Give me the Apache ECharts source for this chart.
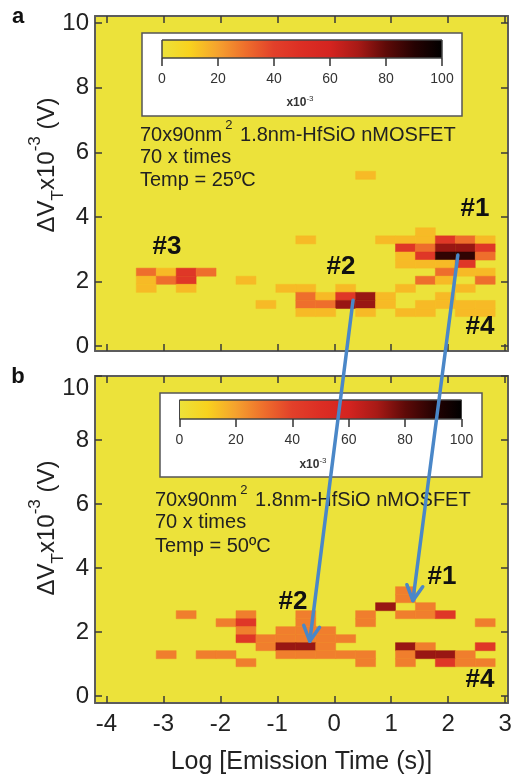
<!DOCTYPE html>
<html><head><meta charset="utf-8">
<script src="https://cdn.jsdelivr.net/npm/echarts@6/dist/echarts.min.js"></script>
<style>html,body{margin:0;padding:0;background:#fff}#c{width:518px;height:776px}</style>
</head><body><div id="c"></div>
<script>
// ---- tick labels ----
const xTicks = [-4, -3, -2, -1, 0, 1, 2, 3];
const yTicks = [0, 2, 4, 6, 8, 10];
const cbTicks = [0, 20, 40, 60, 80, 100];
// ---- bins (centres) ----
const binX = [-3.30, -2.95, -2.60, -2.25, -1.90, -1.55, -1.20, -0.85, -0.50, -0.15, 0.20, 0.55, 0.90, 1.25, 1.60, 1.95, 2.30, 2.65];
const binY = [1.04, 1.29, 1.54, 1.79, 2.04, 2.29, 2.54, 2.79, 3.04, 3.29, 3.54, 5.29];
const binW = 0.35, binH = 0.25;
// ---- panel a (25 C): [xBin, yBin, value x1e-3] ----
const cells25 = [
  [14,10,15],
  [8,9,15],[12,9,15],[13,9,15],[14,9,15],[15,9,45],[16,9,30],[17,9,15],
  [13,8,45],[14,8,30],[15,8,72],[16,8,72],[17,8,45],
  [13,7,15],[14,7,45],[15,7,88],[16,7,88],[17,7,30],
  [13,6,15],[14,6,15],[15,6,15],[16,6,45],
  [0,5,30],[1,5,15],[2,5,45],[3,5,30],[15,5,30],[16,5,15],[17,5,15],
  [0,4,15],[1,4,30],[2,4,45],[5,4,15],[14,4,30],[15,4,15],[17,4,30],
  [0,3,15],[2,3,15],[7,3,15],[8,3,15],[10,3,15],[13,3,15],[16,3,15],
  [8,2,30],[9,2,15],[10,2,45],[11,2,72],[12,2,15],[15,2,15],
  [6,1,15],[8,1,30],[9,1,30],[10,1,72],[11,1,72],[12,1,15],[14,1,15],[15,1,15],[16,1,15],[17,1,15],
  [8,0,15],[9,0,15],[11,0,15],[13,0,15],[14,0,15],[16,0,15],[17,0,15],
  [11,11,15]
];
// ---- panel b (50 C) ----
const cells50 = [
  [13,9,27],
  [13,8,27],
  [12,7,72],[14,7,27],
  [2,6,27],[5,6,27],[8,6,27],[11,6,27],[13,6,27],[14,6,27],[15,6,45],
  [4,5,27],[5,5,45],[8,5,27],[11,5,27],[17,5,27],
  [5,4,27],[7,4,27],[8,4,27],[9,4,27],
  [5,3,45],[6,3,27],[7,3,27],[8,3,27],[9,3,27],[10,3,27],
  [6,2,27],[7,2,72],[8,2,72],[9,2,27],[13,2,72],[14,2,27],[17,2,45],
  [1,1,27],[3,1,27],[4,1,27],[7,1,27],[8,1,27],[9,1,27],[10,1,27],[11,1,27],[13,1,27],[14,1,72],[15,1,72],[16,1,27],
  [5,0,27],[11,0,27],[13,0,27],[15,0,45],[16,0,27],[17,0,27]
];
// ---- colour scale 0..100 ----
const colorScale = ['#ECE23A','#F8D21E','#F5A22E','#EE6E2C','#E2402A','#DC2E24','#D42420','#A81A16','#5E0A08','#260202','#000000'];
// ---- arrows: [panel a point] -> [panel b point] ----
const arrowFrom = [[0.33, 1.42], [2.17, 2.82]];
const arrowTo = [[-0.43, 1.71], [1.38, 2.98]];

const FONT = '"Liberation Sans", Arial, sans-serif';
const BG = '#ECE23A';
const chart = echarts.init(document.getElementById('c'), null, {width: 518, height: 776});

function toData(cells) { return cells.map(c => [binX[c[0]], binY[c[1]], c[2]]); }

function cellRender(params, api) {
  const x = api.value(0), y = api.value(1);
  const p0 = api.coord([x - binW / 2, y + binH / 2]);
  const p1 = api.coord([x + binW / 2, y - binH / 2]);
  const col = api.visual('color');
  return {type: 'rect', shape: {x: p0[0], y: p0[1], width: p1[0] - p0[0], height: p1[1] - p0[1]},
    style: {fill: col, stroke: col, lineWidth: 0.5}};
}
const stops = colorScale.map((c, i) => ({offset: i / (colorScale.length - 1), color: c}));
function barRender(params, api) {
  const a = api.coord([0, 1]), b = api.coord([100, 0]);
  return {type: 'rect', shape: {x: a[0], y: a[1], width: b[0] - a[0], height: b[1] - a[1]},
    style: {fill: new echarts.graphic.LinearGradient(0, 0, 1, 0, stops), stroke: '#444', lineWidth: 1}};
}

function mainX(gi, pos, showLabel) {
  return {type: 'value', gridIndex: gi, position: pos, min: -4.2, max: 3.05,
    axisLine: {show: true, onZero: false, lineStyle: {color: '#5c5c5c', width: 2}},
    axisTick: {show: true, inside: true, length: 7, customValues: xTicks, lineStyle: {color: '#3a3a3a', width: 1.5}},
    axisLabel: {show: showLabel, customValues: xTicks, margin: 9, fontSize: 24, color: '#222', fontFamily: FONT},
    splitLine: {show: false}};
}
function mainY(gi, pos, showLabel, min, max) {
  return {type: 'value', gridIndex: gi, position: pos, min: min, max: max,
    axisLine: {show: true, onZero: false, lineStyle: {color: '#5c5c5c', width: 2}},
    axisTick: {show: true, inside: true, length: 7, customValues: yTicks, lineStyle: {color: '#3a3a3a', width: 1.5}},
    axisLabel: {show: showLabel, customValues: yTicks, margin: 6, fontSize: 24, color: '#222', fontFamily: FONT},
    splitLine: {show: false}};
}
function cbX(gi) {
  return {type: 'value', gridIndex: gi, min: 0, max: 100, interval: 20, z: 5,
    axisLine: {show: false}, splitLine: {show: false},
    axisTick: {show: true, inside: false, length: 8, lineStyle: {color: '#333', width: 1.5}},
    axisLabel: {show: true, margin: 14, fontSize: 14, color: '#333', fontFamily: FONT}};
}
function cbY(gi) { return {type: 'value', gridIndex: gi, min: 0, max: 1, show: false}; }

const xA = mainX(1, 'bottom', true);
xA.name = 'Log [Emission Time (s)]';
xA.nameLocation = 'middle';
xA.nameGap = 47;
xA.nameTextStyle = {fontSize: 25, color: '#222', fontFamily: FONT};
const yB = mainY(1, 'left', true, -0.22, 10);
yB.axisLabel.verticalAlignMaxLabel = 'top';

const option = {
  animation: false,
  backgroundColor: '#fff',
  grid: [
    {left: 95, top: 16, width: 413, height: 335, show: true, backgroundColor: BG, borderWidth: 0},
    {left: 95, top: 376, width: 413, height: 327, show: true, backgroundColor: BG, borderWidth: 0},
    {left: 162, top: 40, width: 280, height: 18},
    {left: 179.5, top: 400, width: 282, height: 19}
  ],
  xAxis: [mainX(0, 'bottom', false), mainX(0, 'top', false), xA, mainX(1, 'top', false), cbX(2), cbX(3)],
  yAxis: [mainY(0, 'left', true, -0.15, 10.22), mainY(0, 'right', false, -0.15, 10.22), yB, mainY(1, 'right', false, -0.22, 10), cbY(2), cbY(3)],
  visualMap: {type: 'continuous', show: false, min: 0, max: 100, dimension: 2, seriesIndex: [0, 1], inRange: {color: colorScale}},
  series: [
    {type: 'custom', xAxisIndex: 0, yAxisIndex: 0, z: 2, renderItem: cellRender, data: toData(cells25)},
    {type: 'custom', xAxisIndex: 2, yAxisIndex: 2, z: 2, renderItem: cellRender, data: toData(cells50)},
    {type: 'custom', xAxisIndex: 4, yAxisIndex: 4, z: 5, renderItem: barRender, data: [[0, 0]]},
    {type: 'custom', xAxisIndex: 5, yAxisIndex: 5, z: 5, renderItem: barRender, data: [[0, 0]]}
  ]
};
chart.setOption(option);

// ---------- annotations ----------
const txt = (x, y, text, extra) => Object.assign({type: 'text', x: x, y: y, z: 10,
  style: Object.assign({text: text, fontFamily: FONT, fontSize: 20, fill: '#222', align: 'left', verticalAlign: 'middle'}, extra || {})});
const supLine = (x, y) => ({type: 'text', x: x, y: y, z: 10, style: {
  text: '{m|70x90nm}{s|2}{m| 1.8nm-HfSiO nMOSFET}', align: 'left', verticalAlign: 'middle',
  rich: {m: {fontSize: 20, lineHeight: 32, fill: '#222', fontFamily: FONT},
         s: {fontSize: 13, lineHeight: 13, fill: '#222', fontFamily: FONT, verticalAlign: 'top', padding: [0, 2, 0, 3]}}}});
const cbName = (x, y) => ({type: 'text', x: x, y: y, z: 10, style: {
  text: '{m|x10}{s|-3}', align: 'center', verticalAlign: 'middle',
  rich: {m: {fontSize: 12, fontWeight: 'bold', lineHeight: 16, fill: '#333', fontFamily: FONT},
         s: {fontSize: 8, lineHeight: 8, fill: '#333', fontFamily: FONT, verticalAlign: 'top'}}}});
const yTitle = (x, y) => ({type: 'text', x: x, y: y, rotation: Math.PI / 2, z: 10, style: {
  text: '{m|ΔV}{b|T}{m|x10}{p|-3}{m| (V)}', align: 'center', verticalAlign: 'middle',
  rich: {m: {fontSize: 24, lineHeight: 40, fill: '#222', fontFamily: FONT},
         b: {fontSize: 17, lineHeight: 28, fill: '#222', fontFamily: FONT, verticalAlign: 'bottom'},
         p: {fontSize: 17, lineHeight: 17, fill: '#222', fontFamily: FONT, verticalAlign: 'top'}}}});
const tag = (x, y, t) => txt(x, y, t, {fontSize: 26, fontWeight: 'bold', fill: '#111', align: 'center'});

const graphics = [
  {type: 'rect', z: 1, shape: {x: 142, y: 33, width: 320, height: 83}, style: {fill: '#fff', stroke: '#555', lineWidth: 1.5}},
  {type: 'rect', z: 1, shape: {x: 160, y: 393, width: 322, height: 84}, style: {fill: '#fff', stroke: '#555', lineWidth: 1.5}},
  cbName(300, 103), cbName(313, 465),
  txt(18, 17, 'a', {fontSize: 22, fontWeight: 'bold', fill: '#111', align: 'center'}),
  txt(18, 377, 'b', {fontSize: 22, fontWeight: 'bold', fill: '#111', align: 'center'}),
  supLine(140, 135), txt(140, 157, '70 x times'), txt(140, 180, 'Temp = 25ºC'),
  supLine(155, 500), txt(155, 522, '70 x times'), txt(155, 546, 'Temp = 50ºC'),
  yTitle(47, 165), yTitle(47, 528),
  tag(475, 209, '#1'), tag(341, 267, '#2'), tag(167, 247, '#3'), tag(480, 327, '#4'),
  tag(442, 577, '#1'), tag(293, 602, '#2'), tag(480, 680, '#4')
];

for (let i = 0; i < arrowFrom.length; i++) {
  const s = chart.convertToPixel({seriesIndex: 0}, arrowFrom[i]);
  const e = chart.convertToPixel({seriesIndex: 1}, arrowTo[i]);
  const dx = e[0] - s[0], dy = e[1] - s[1], L = Math.hypot(dx, dy);
  const ux = dx / L, uy = dy / L, h = 17, th = 28 * Math.PI / 180;
  const arm = sg => [e[0] - h * (ux * Math.cos(th) - sg * uy * Math.sin(th)), e[1] - h * (uy * Math.cos(th) + sg * ux * Math.sin(th))];
  graphics.push({type: 'line', z: 20, shape: {x1: s[0], y1: s[1], x2: e[0], y2: e[1]},
    style: {stroke: '#4A87C8', lineWidth: 3.5, lineCap: 'round'}});
  graphics.push({type: 'polyline', z: 20, shape: {points: [arm(1), e, arm(-1)]},
    style: {stroke: '#4A87C8', lineWidth: 3.5, lineCap: 'round', lineJoin: 'round', fill: null}});
}
chart.setOption({graphic: graphics});
</script></body></html>
